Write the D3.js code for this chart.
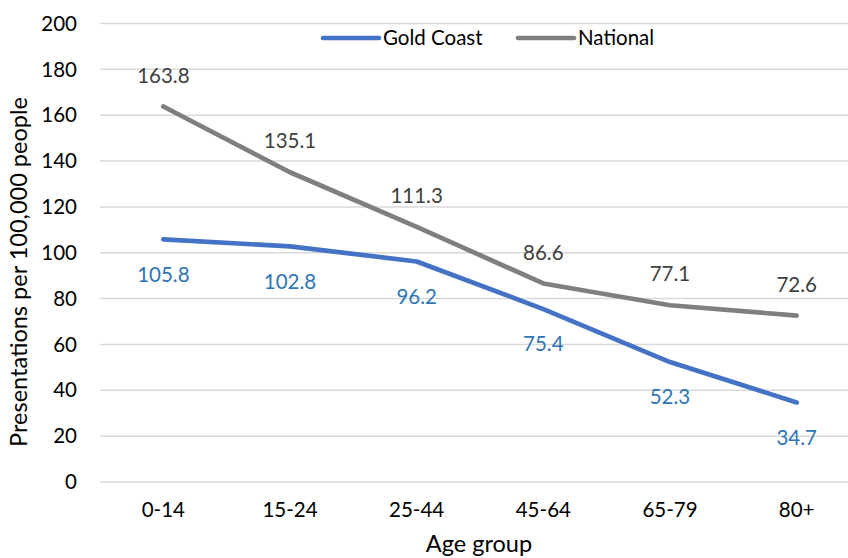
<!DOCTYPE html>
<html><head><meta charset="utf-8">
<script src="https://cdn.jsdelivr.net/npm/d3@7"></script>
<style>body{margin:0;background:#fff}text{font-family:Lato,"Noto Sans",sans-serif}</style>
</head><body><svg id="c" width="848" height="558"></svg>
<script>
const categories = ["0-14","15-24","25-44","45-64","65-79","80+"];
const goldCoast = [105.8,102.8,96.2,75.4,52.3,34.7];
const national = [163.8,135.1,111.3,86.6,77.1,72.6];
const yTicks = [0,20,40,60,80,100,120,140,160,180,200];

const svg = d3.select("#c");
const x = d3.scaleBand().domain(categories).range([100,860]);
const y = d3.scaleLinear().domain([0,200]).range([482,23.5]);
const cx = d => x(d) + x.bandwidth()/2;
const FS = 20.5;

svg.append("g").selectAll("line").data(yTicks).join("line")
  .attr("x1",100).attr("x2",860).attr("y1",d=>y(d)).attr("y2",d=>y(d))
  .attr("stroke","#d9d9d9").attr("stroke-width",1.5);
svg.append("g").selectAll("text").data(yTicks).join("text")
  .attr("x",77).attr("y",d=>y(d)).attr("dy","0.35em").attr("text-anchor","end")
  .attr("font-size",FS).attr("fill","#000").text(d=>d);
svg.append("g").selectAll("text").data(categories).join("text")
  .attr("x",d=>cx(d)).attr("y",517).attr("text-anchor","middle")
  .attr("font-size",FS).attr("fill","#000").text(d=>d);

svg.append("text").attr("x",479).attr("y",552).attr("text-anchor","middle").attr("font-size",23.5).text("Age group");
svg.append("text").attr("transform","translate(27,272) rotate(-90)").attr("text-anchor","middle").attr("font-size",23.5).text("Presentations per 100,000 people");

const line = d3.line().x((d,i)=>cx(categories[i])).y(d=>y(d));
const series = [
  {name:"National", vals:national, color:"#7f7f7f", label:"#404040", dy:-31},
  {name:"Gold Coast", vals:goldCoast, color:"#4472c4", label:"#2e75b6", dy:35}
];
series.forEach(s=>{
  svg.append("path").attr("d",line(s.vals)).attr("fill","none").attr("stroke",s.color)
    .attr("stroke-width",4.7).attr("stroke-linejoin","round").attr("stroke-linecap","round");
});
series.forEach(s=>{
  svg.append("g").selectAll("text").data(s.vals).join("text")
    .attr("x",(d,i)=>cx(categories[i])).attr("y",d=>y(d)+s.dy).attr("dy","0.35em")
    .attr("text-anchor","middle").attr("font-size",FS).attr("fill",s.label).text(d=>d.toFixed(1));
});

const legend = [{name:"Gold Coast",color:"#4472c4",x:323},{name:"National",color:"#7f7f7f",x:518}];
legend.forEach(l=>{
  svg.append("line").attr("x1",l.x).attr("x2",l.x+56).attr("y1",38).attr("y2",38)
    .attr("stroke",l.color).attr("stroke-width",4.7).attr("stroke-linecap","round");
  svg.append("text").attr("x",l.x+60).attr("y",38).attr("dy","0.35em").attr("font-size",FS).text(l.name);
});
</script></body></html>
